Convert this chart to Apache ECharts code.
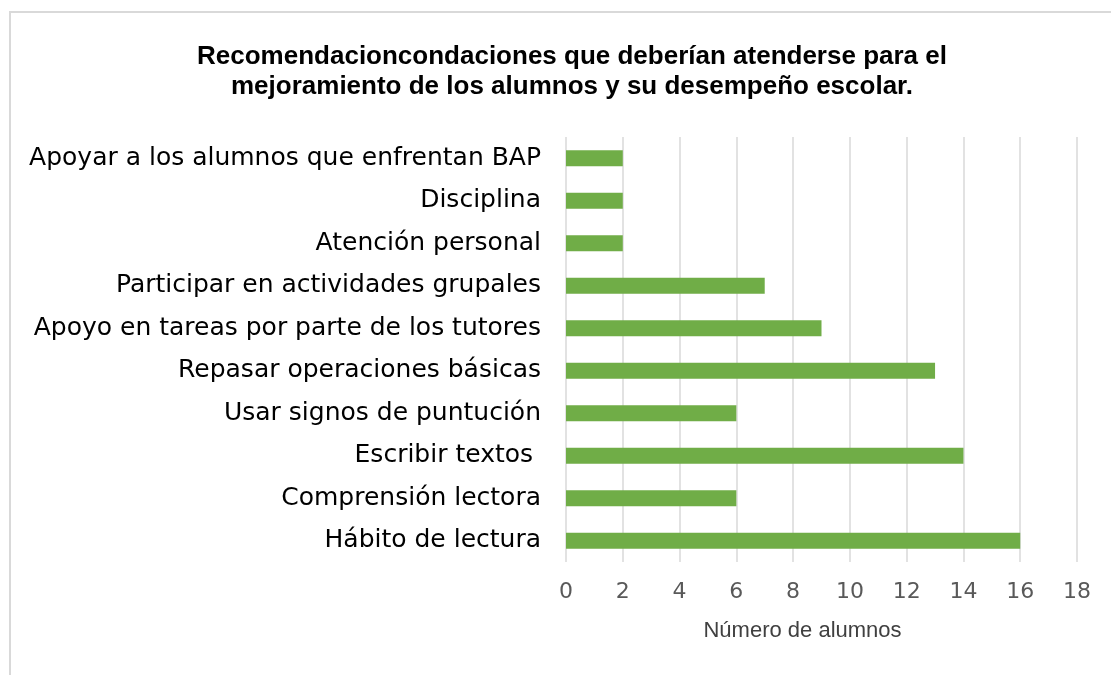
<!DOCTYPE html>
<html>
<head>
<meta charset="utf-8">
<script src="https://cdn.jsdelivr.net/npm/echarts@6/dist/echarts.min.js"></script>
<style>
  html, body { margin: 0; padding: 0; background: #ffffff; }
  #frame {
    position: absolute; left: 9px; top: 11px; width: 1110px; height: 680px;
    border-top: 2px solid #d9d9d9; border-left: 2px solid #d9d9d9;
  }
  #chart { position: absolute; left: 0; top: 0; width: 1111px; height: 675px; }
</style>
</head>
<body>
<div id="frame"></div>
<div id="chart"></div>
<script>
// categories bottom -> top (as the category axis draws them)
const categories = [
  'Hábito de lectura',
  'Comprensión lectora',
  'Escribir textos ',
  'Usar signos de puntución',
  'Repasar operaciones básicas',
  'Apoyo en tareas por parte de los tutores',
  'Participar en actividades grupales',
  'Atención personal',
  'Disciplina',
  'Apoyar a los alumnos que enfrentan BAP'
];
const alumnos = [16, 6, 14, 6, 13, 9, 7, 2, 2, 2];

const titleText = 'Recomendacioncondaciones que deberían atenderse para el\nmejoramiento de los alumnos y su desempeño escolar.';
const axisName = 'Número de alumnos';

const chart = echarts.init(document.getElementById('chart'), null, { renderer: 'canvas' });
chart.setOption({
  animation: false,
  backgroundColor: 'transparent',
  title: {
    text: titleText,
    left: 567,
    top: 37,
    textAlign: 'center',
    textStyle: {
      fontFamily: 'Liberation Sans',
      fontWeight: 'bold',
      fontSize: 26,
      lineHeight: 30,
      color: '#000000'
    }
  },
  grid: { left: 566, right: 34, top: 137, bottom: 113 },
  xAxis: {
    type: 'value',
    min: 0,
    max: 18,
    interval: 2,
    name: axisName,
    nameLocation: 'middle',
    nameGap: 58,
    nameTextStyle: {
      fontFamily: 'Liberation Sans', fontSize: 22, color: '#404040',
      padding: [0, 38, 0, 0]
    },
    axisLine: { show: false },
    axisTick: { show: false },
    axisLabel: { fontFamily: 'DejaVu Sans', fontSize: 22, color: '#595959', margin: 19 },
    splitLine: { show: true, lineStyle: { color: '#d9d9d9', width: 1.5 } }
  },
  yAxis: {
    type: 'category',
    data: categories,
    axisLine: { show: false },
    axisTick: { show: false },
    axisLabel: { fontFamily: 'DejaVu Sans', fontSize: 25, color: '#000000', margin: 25, padding: [4, 0, 0, 0] }
  },
  series: [{
    type: 'bar',
    data: alumnos,
    barWidth: 16,
    itemStyle: { color: '#70ad47' }
  }]
});
</script>
</body>
</html>
